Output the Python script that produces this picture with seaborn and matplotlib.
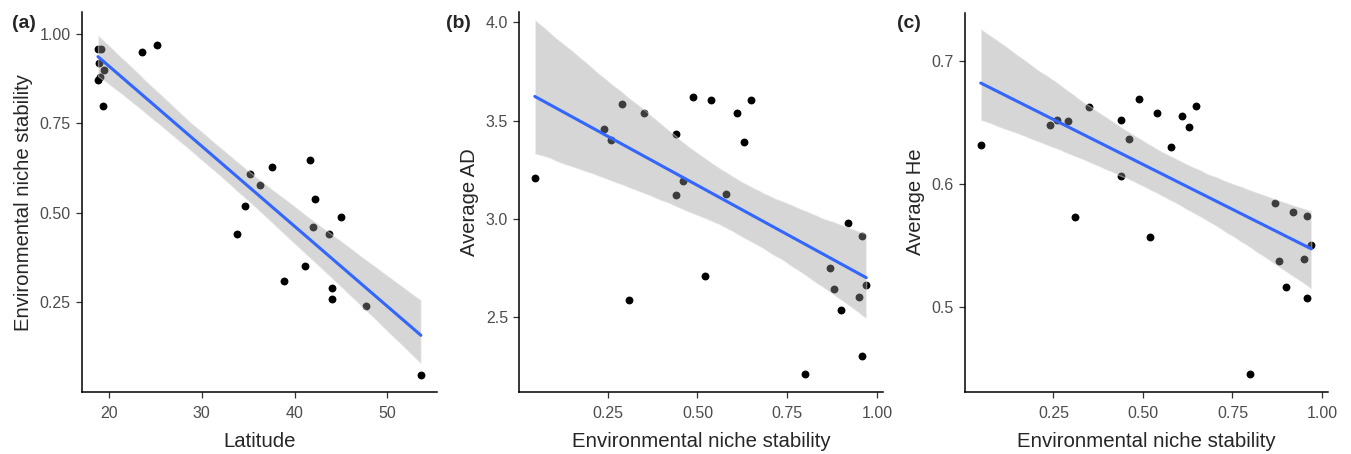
import matplotlib
matplotlib.use("Agg")
import matplotlib.pyplot as plt
import seaborn as sns
import pandas as pd

# --- data (one row per site, sorted by niche stability) ---
LATITUDE = [53.6, 47.7, 44.0, 44.05, 38.85, 41.1, 33.76, 43.7, 42.0, 45.0,
            34.7, 42.2, 36.3, 35.2, 37.6, 41.7, 19.35, 18.85, 19.1, 19.5,
            19.0, 23.6, 18.85, 19.2, 25.2]
STABILITY = [0.047, 0.24, 0.26, 0.29, 0.309, 0.35, 0.44, 0.44, 0.46, 0.489,
             0.52, 0.539, 0.579, 0.609, 0.629, 0.649, 0.80, 0.87, 0.88, 0.90,
             0.919, 0.95, 0.959, 0.959, 0.97]
AVG_AD = [3.21, 3.457, 3.40, 3.584, 2.589, 3.538, 3.43, 3.12, 3.19, 3.62,
          2.707, 3.606, 3.125, 3.538, 3.39, 3.606, 2.21, 2.75, 2.642, 2.534,
          2.978, 2.60, 2.911, 2.30, 2.664]
AVG_HE = [0.631, 0.648, 0.652, 0.651, 0.573, 0.662, 0.652, 0.606, 0.636, 0.669,
          0.557, 0.657, 0.630, 0.655, 0.646, 0.663, 0.445, 0.584, 0.537, 0.516,
          0.577, 0.539, 0.574, 0.507, 0.550]

PANELS = [
    # x, y, xlabel, ylabel, tag, xlim, ylim, xticks, yticks, fmt
    ("Latitude", "Stability", "Latitude", "Environmental niche stability", "(a)",
     (17.1, 55.3), (0.0, 1.06), [20, 30, 40, 50], [0.25, 0.50, 0.75, 1.00], "{:.2f}"),
    ("Stability", "AD", "Environmental niche stability", "Average AD", "(b)",
     (0.003, 1.016), (2.12, 4.05), [0.25, 0.50, 0.75, 1.00], [2.5, 3.0, 3.5, 4.0], "{:.1f}"),
    ("Stability", "He", "Environmental niche stability", "Average He", "(c)",
     (0.003, 1.016), (0.431, 0.739), [0.25, 0.50, 0.75, 1.00], [0.5, 0.6, 0.7], "{:.1f}"),
]
AX_POS = [(81.7, 436.7), (519, 882.7), (965, 1327.7)]
TAG_X = [12, 446, 897]

sns.set_style("ticks")
plt.rcParams['font.family'] = ['Liberation Sans', 'DejaVu Sans']

df = pd.DataFrame({"Latitude": LATITUDE, "Stability": STABILITY,
                   "AD": AVG_AD, "He": AVG_HE})

W, H = 1351, 454
fig = plt.figure(figsize=(W / 100, H / 100), dpi=100)

for (x, y, xl, yl, tag, xlim, ylim, xt, yt, fmt), (l, r), tx in zip(PANELS, AX_POS, TAG_X):
    ax = fig.add_axes([l / W, 1 - 391.7 / H, (r - l) / W, (391.7 - 12.5) / H])
    # points first, smoother drawn over them (as ggplot does)
    sns.scatterplot(data=df, x=x, y=y, ax=ax, color="black", s=32,
                    linewidth=0, zorder=2)
    sns.regplot(data=df, x=x, y=y, ax=ax, scatter=False, ci=95, n_boot=2000,
                seed=1, color="#3366FF", line_kws={"linewidth": 2.2, "zorder": 4})
    band = ax.collections[-1]
    band.set_facecolor("#999999")
    band.set_alpha(0.4)
    band.set_zorder(3)

    ax.set_xlim(*xlim)
    ax.set_ylim(*ylim)
    ax.set_xticks(xt)
    ax.set_xticklabels([str(v) if isinstance(v, int) else "{:.2f}".format(v) for v in xt])
    ax.set_yticks(yt)
    ax.set_yticklabels([fmt.format(v) for v in yt])
    ax.tick_params(labelsize=11.5, labelcolor="#4d4d4d", color="#333333",
                   length=4, width=0.9, pad=4)
    ax.tick_params(axis="x", pad=6)
    ax.set_xlabel(xl, fontsize=14.7, labelpad=8)
    ax.set_ylabel(yl, fontsize=14.6, labelpad=5)
    for s in ("left", "bottom"):
        ax.spines[s].set_linewidth(1.1)
        ax.spines[s].set_color("black")
    sns.despine(ax=ax)
    fig.text(tx / W, 1 - 23 / H, tag, fontsize=14, fontweight="bold", va="center")

fig.savefig("out.png", dpi=100)
